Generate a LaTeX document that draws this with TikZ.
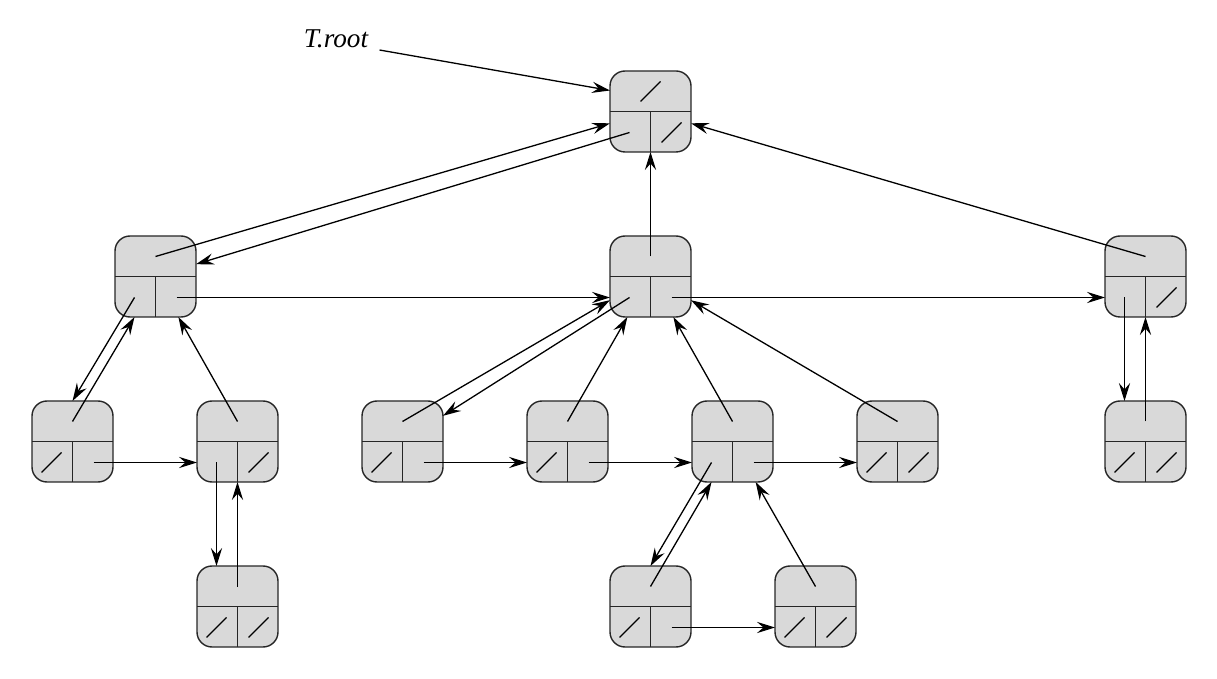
\documentclass[tikz,border=0pt]{standalone}
\usepackage{fontspec}
\setmainfont{Liberation Serif}
\usetikzlibrary{arrows.meta,calc}
\definecolor{nodefill}{RGB}{217,217,217}
\tikzset{
  tn/.style={draw=black!85, fill=nodefill, line width=0.7pt, rounded corners=7.5pt,
             minimum size=40.5pt, inner sep=0pt, outer sep=0pt},
  div/.style={draw=black!85, line width=0.7pt},
  nilst/.style={line width=0.65pt},
  ptr/.style={line width=0.65pt, -{Stealth[length=9pt,width=5.6pt,inset=3.2pt]}},
}
\newcommand\lcrsnode[3]{%
  \node[tn] (#1) at (#2,#3) {};
  \draw[div] (#1.west) -- (#1.east);
  \draw[div] (#1.center) -- (#1.south);
  \coordinate (#1-p) at ($(#1.center)+(0,-20)$);
  \coordinate (#1-l) at ($(#1.center)+(-21,21)$);
  \coordinate (#1-r) at ($(#1.center)+(21,21)$);
}
\newcommand\nilptr[1]{\draw[nilst] ($(#1)+(-10,10)$) -- ($(#1)+(10,-10)$);}
\begin{document}
\begin{tikzpicture}[x=0.5pt,y=-0.5pt]
\useasboundingbox (0,0) rectangle (1217,679);
% nodes
\lcrsnode{root}{650.5}{111.5}
\lcrsnode{A}{155.5}{276.5}
\lcrsnode{B}{650.5}{276.5}
\lcrsnode{C}{1145.5}{276.5}
\lcrsnode{D}{72.5}{441.5}
\lcrsnode{E}{237.5}{441.5}
\lcrsnode{F}{402.5}{441.5}
\lcrsnode{G}{567.5}{441.5}
\lcrsnode{H}{732.5}{441.5}
\lcrsnode{I}{897.5}{441.5}
\lcrsnode{J}{1145.5}{441.5}
\lcrsnode{K}{237.5}{606.5}
\lcrsnode{L}{650.5}{606.5}
\lcrsnode{M}{815.5}{606.5}
% NIL pointers
\nilptr{root-p}\nilptr{root-r}
\nilptr{C-r}
\nilptr{D-l}\nilptr{E-r}\nilptr{F-l}\nilptr{G-l}
\nilptr{I-l}\nilptr{I-r}\nilptr{J-l}\nilptr{J-r}
\nilptr{K-l}\nilptr{K-r}\nilptr{L-l}\nilptr{M-l}\nilptr{M-r}
% label
\node[anchor=base, inner sep=0pt, font=\fontsize{13.6}{16}\selectfont\itshape] (troot) at (336,48) {T.root};
\coordinate (tstart) at ($(troot.base east)+(11,2)$);
% connectors
\draw[ptr] (tstart) -- ($(root.west)+(0,-21)$);
\draw[ptr] (root-l) -- (A);
\draw[ptr] (A-p) -- (root);
\draw[ptr] (B-p) -- (root);
\draw[ptr] (C-p) -- (root);
\draw[ptr] (A-r) -- (A-r -| B.west);
\draw[ptr] (B-r) -- (B-r -| C.west);
\draw[ptr] (A-l) -- (D.north);
\draw[ptr] (D-p) -- (A-l |- A.south);
\draw[ptr] (E-p) -- (A);
\draw[ptr] (D-r) -- (D-r -| E.west);
\draw[ptr] (E-l) -- (E-l |- K.north);
\draw[ptr] (K-p) -- (E);
\draw[ptr] (B-l) -- (F);
\draw[ptr] (F-p) -- (B);
\draw[ptr] (G-p) -- (B);
\draw[ptr] (H-p) -- (B);
\draw[ptr] (I-p) -- (B);
\draw[ptr] (F-r) -- (F-r -| G.west);
\draw[ptr] (G-r) -- (G-r -| H.west);
\draw[ptr] (H-r) -- (H-r -| I.west);
\draw[ptr] (H-l) -- (L.north);
\draw[ptr] (L-p) -- (H-l |- H.south);
\draw[ptr] (M-p) -- (H);
\draw[ptr] (L-r) -- (L-r -| M.west);
\draw[ptr] (C-l) -- (C-l |- J.north);
\draw[ptr] (J-p) -- (C);
\end{tikzpicture}
\end{document}
